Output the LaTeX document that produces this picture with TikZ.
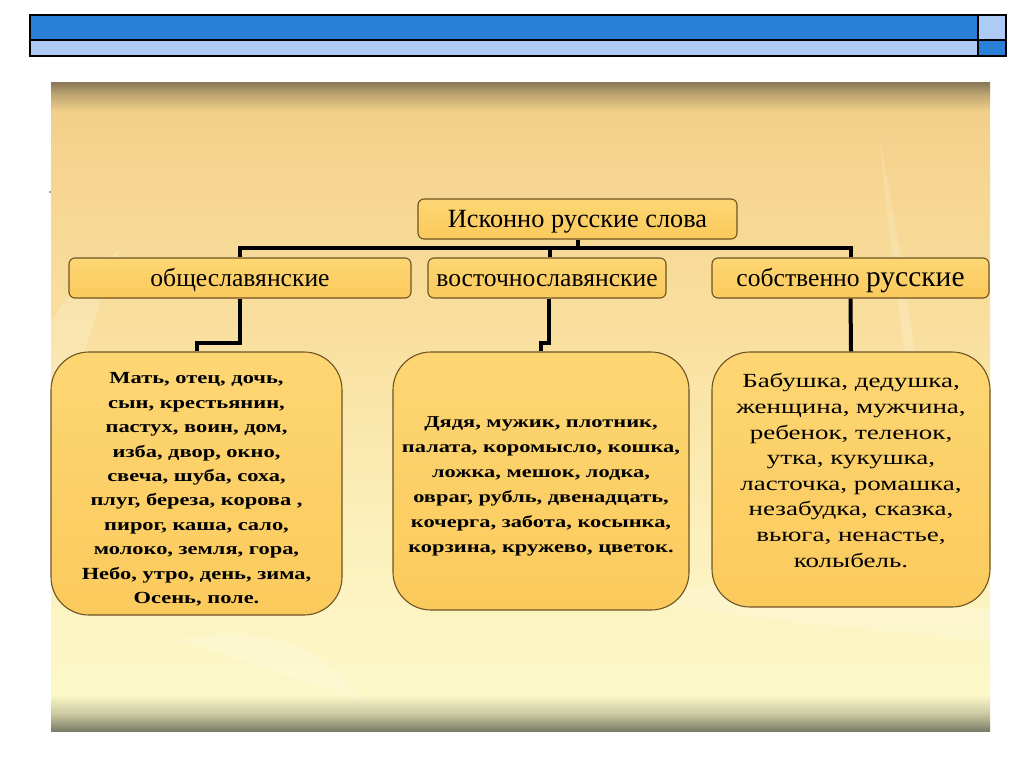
\documentclass[tikz,border=0pt]{standalone}
\usepackage{fontspec}
\setmainfont{Liberation Serif}
\newfontfamily\widefont[FakeStretch=1.32]{Liberation Serif}
\newfontfamily\widerfont[FakeStretch=1.35]{Liberation Serif}
\definecolor{pbot}{HTML}{7A7C66}
\definecolor{pmid2}{HTML}{C9C7A0}
\definecolor{pcream}{HTML}{FCF8C8}
\definecolor{plight}{HTML}{FCF0BC}
\definecolor{pwarm}{HTML}{F9E0A0}
\definecolor{ptan}{HTML}{F6D590}
\definecolor{ptan2}{HTML}{F2D08A}
\definecolor{ptop2}{HTML}{BFA572}
\definecolor{ptop}{HTML}{8C7A58}
\definecolor{hdark}{HTML}{2A7FD6}
\definecolor{hlight}{HTML}{AECBF5}
\definecolor{boxline}{HTML}{6E5424}
\definecolor{boxtop}{HTML}{FDD673}
\definecolor{boxbot}{HTML}{FBCA5C}
\pgfdeclareverticalshading{panelshade}{100bp}{color(0bp)=(pbot); color(25bp)=(pbot); color(26.3bp)=(pmid2); color(27.8bp)=(pcream); color(40bp)=(plight); color(55bp)=(pwarm); color(68bp)=(ptan); color(72.8bp)=(ptan2); color(74.1bp)=(ptop2); color(75bp)=(ptop); color(100bp)=(ptop)}
\tikzset{
  catbox/.style={draw=boxline, line width=1.1pt, rounded corners=6pt, top color=boxtop, bottom color=boxbot, minimum height=40pt, inner sep=0pt, text height=17pt, text depth=0pt, font=\fontsize{25.6}{28}\selectfont},
  wordbox/.style={draw=boxline, line width=1.1pt, rounded corners=38pt, top color=boxtop, bottom color=boxbot, inner sep=0pt},
  wordtext/.style={inner sep=0pt, align=center},
  link/.style={line width=4pt, line join=miter, black},
  leaf/.style={fill=white, opacity=0.18}
}
\begin{document}
\begin{tikzpicture}[x=1pt,y=-1pt]
\useasboundingbox (0,0) rectangle (1024,767);
\fill[white] (0,0) rectangle (1024,767);
% header bars
\fill[hdark] (30,15) rectangle (978,40);
\fill[hlight] (30,40) rectangle (978,56);
\fill[hlight] (978,15) rectangle (1006,40);
\fill[hdark] (978,40) rectangle (1006,56);
\draw[line width=1.5pt] (30,15) rectangle (1006,56);
\draw[line width=1.5pt] (30,40) -- (1006,40);
\draw[line width=1.5pt] (978,15) -- (978,56);
% panel
\shade[shading=panelshade] (51,83) rectangle (990,731);
\begin{scope}
\clip (51,83) rectangle (990,731);
\fill[leaf] (640,600) .. controls (760,560) and (880,600) .. (990,610) -- (990,640) .. controls (860,630) and (760,620) .. (640,600) -- cycle;
\fill[leaf] (880,140) .. controls (900,250) and (930,420) .. (940,620) .. controls (915,420) and (890,260) .. (880,140) -- cycle;
\fill[leaf] (60,430) .. controls (20,380) and (40,300) .. (120,250) .. controls (90,320) and (80,380) .. (60,430) -- cycle;
\fill[leaf] (180,640) .. controls (260,620) and (330,650) .. (360,700) .. controls (300,680) and (240,660) .. (180,640) -- cycle;
\end{scope}
\fill[black!70] (50,192) circle (0.8pt);
% category boxes
\node[catbox, minimum width=319pt, font=\fontsize{26.3}{28}\selectfont] (root) at (577.5,219) {Исконно русские слова};
\node[catbox, minimum width=342pt] (obs) at (240,278) {общеславянские};
\node[catbox, minimum width=238pt] (vos) at (547,278) {восточнославянские};
\node[catbox, minimum width=277pt] (sob) at (850.5,278) {собственно {\fontsize{29.5}{30}\selectfont русские}};
% word boxes
\node[wordbox, minimum width=291pt, minimum height=263pt] (wa) at (196.5,483.5) {};
\node[wordtext, font=\widefont\bfseries\fontsize{17}{24.4}\selectfont] (ta) at ([yshift=-6pt]wa.center)
 {Мать, отец, дочь,\\ сын, крестьянин,\\ пастух, воин, дом,\\ изба, двор, окно,\\ свеча, шуба, соха,\\ плуг, береза, корова ,\\ пирог, каша, сало,\\ молоко, земля, гора,\\ Небо, утро, день, зима,\\ Осень, поле.};
\node[wordbox, minimum width=296pt, minimum height=258pt] (wb) at (541,481) {};
\node[wordtext, font=\widerfont\bfseries\fontsize{16.6}{25}\selectfont] (tb) at ([yshift=-5pt]wb.center)
 {Дядя, мужик, плотник,\\ палата, коромысло, кошка,\\ ложка, мешок, лодка,\\ овраг, рубль, двенадцать,\\ кочерга, забота, косынка,\\ корзина, кружево, цветок.};
\node[wordbox, minimum width=278pt, minimum height=255pt] (wc) at (851,479.5) {};
\node[wordtext, font=\widerfont\fontsize{20}{25.6}\selectfont] (tc) at ([yshift=9pt]wc.center)
 {Бабушка, дедушка,\\ женщина, мужчина,\\ ребенок, теленок,\\ утка, кукушка,\\ ласточка, ромашка,\\ незабудка, сказка,\\ вьюга, ненастье,\\ колыбель.};
% connectors
\coordinate (bus) at (0,248);
\draw[link] (root.south) -- (root.south |- bus);
\draw[link] (obs.north) |- (sob.north |- bus) -- (sob.north);
\draw[link] (vos.north) ++(3,0) -- ++(0,-10);
\draw[link] (obs.south) -- ++(0,44) -| (wa.north);
\draw[link] (vos.south) ++(2,0) -- ++(0,44) -| (wb.north);
\draw[link] (sob.south) -- (wc.north);
\end{tikzpicture}
\end{document}
